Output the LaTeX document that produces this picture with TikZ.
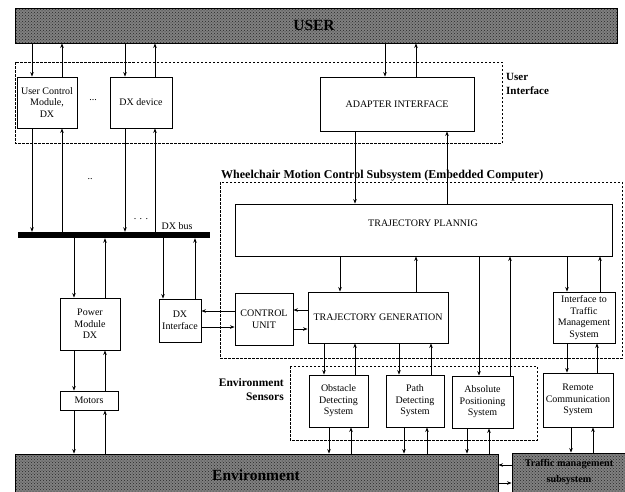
\documentclass[tikz,border=0pt]{standalone}
\usepackage{fontspec}
\setmainfont{Liberation Serif}
\usetikzlibrary{arrows.meta,patterns}
\newcommand\varr[3]{\draw[arr] (#1,0 |- #2) -- (#1,0 |- #3);}
\newcommand\harr[3]{\draw[arr] (#2 |- 0,#1) -- (#3 |- 0,#1);}
\begin{document}
\begin{tikzpicture}[x=1pt,y=-1pt,
  box/.style={draw, line width=0.9pt, fill=white, align=center, inner sep=0.5pt,
    font=\fontsize{10}{11.6}\selectfont},
  bar/.style={draw, line width=0.9pt, preaction={fill=black!50},
    pattern=crosshatch dots, pattern color=black!85, inner sep=0pt},
  dbox/.style={draw, line width=0.8pt, dash pattern=on 2.5pt off 1.5pt},
  arr/.style={line width=0.8pt, -{Stealth[length=4.5pt,width=3.5pt]}},
  lbl/.style={font=\fontsize{11}{13.5}\selectfont\bfseries, inner sep=0pt},
  small/.style={font=\fontsize{10}{11}\selectfont, inner sep=0pt}]
\useasboundingbox (0,0) rectangle (625,491);

% bars
\node[bar, minimum width=602pt, minimum height=35pt] (user) at (316,25.5) {};
\node[font=\fontsize{15.5}{18}\selectfont\bfseries] (usertxt) at (314,25) {USER};
\node[bar, minimum width=483pt, minimum height=40pt] (env) at (256.5,474) {};
\node[font=\fontsize{15.5}{18}\selectfont\bfseries] (envtxt) at (256,475) {Environment};
\node[bar, minimum width=115pt, minimum height=41pt] (traffic) at (569.5,473.5) {};
\node[font=\fontsize{10.2}{16}\selectfont\bfseries, align=center] (traftxt) at (569,472.5) {Traffic management\\subsystem};

% dashed groups
\draw[dbox] (15,62) rectangle (502,143);
\draw[dbox] (220,182) rectangle (622,358);
\draw[dbox] (290,366) rectangle (537,440);

% boxes
\node[box, minimum width=60pt, minimum height=51pt] (ucm) at (47,102.5) {User Control\\Module,\\DX};
\node[box, minimum width=62pt, minimum height=51pt] (dxdev) at (141,102.5) {DX device};
\node[box, minimum width=154pt, minimum height=54pt] (adapt) at (397,104) {ADAPTER INTERFACE};
\node[box, minimum width=377pt, minimum height=52pt] (tp) at (423.5,230) {};
\node[small] (tptxt) at (423,223) {TRAJECTORY PLANNIG};
\node[box, minimum width=140pt, minimum height=51pt] (tg) at (378,317.5) {TRAJECTORY GENERATION};
\node[box, minimum width=58pt, minimum height=52pt] (cu) at (264,319) {CONTROL\\UNIT};
\node[box, minimum width=42pt, minimum height=43pt] (dxi) at (180,320.5) {DX\\Interface};
\node[box, minimum width=60pt, minimum height=52pt] (pm) at (90,324) {Power\\Module\\DX};
\node[box, minimum width=58pt, minimum height=19pt] (mot) at (89,400.5) {Motors};
\node[box, minimum width=62pt, minimum height=51pt] (itms) at (584,317.5) {Interface to\\Traffic\\Management\\System};
\node[box, minimum width=59pt, minimum height=52pt] (obs) at (338.5,401) {Obstacle\\Detecting\\System};
\node[box, minimum width=58pt, minimum height=52pt] (pds) at (415,401) {Path\\Detecting\\System};
\node[box, minimum width=61pt, minimum height=52pt] (aps) at (482.5,402) {Absolute\\Positioning\\System};
\node[box, minimum width=70pt, minimum height=54pt] (rcs) at (578,400) {Remote\\Communication\\System};

% DX bus
\node[fill=black, minimum width=192pt, minimum height=6pt, inner sep=0pt] (bus) at (114,235) {};
\node[small] (buslbl) at (177,226) {DX bus};

% labels
\node[lbl, anchor=west, align=left] (uilbl) at (506,84) {User\\Interface};
\node[lbl, anchor=west, font=\fontsize{12}{14}\selectfont\bfseries] (wmlbl) at (221,176) {Wheelchair Motion Control Subsystem (Embedded Computer)};
\node[lbl, anchor=east, align=right, font=\fontsize{11.5}{14}\selectfont\bfseries] (eslbl) at (284,390) {Environment\\Sensors};
\node[small] (dots1) at (93,100) {...};
\node[small] (dots2) at (90,179) {..};
\node[small] (dots3) at (141,219) {. . .};

% user <-> UI
\varr{32}{user.south}{ucm.north}
\varr{62}{ucm.north}{user.south}
\varr{125}{user.south}{dxdev.north}
\varr{155}{dxdev.north}{user.south}
\varr{385}{user.south}{adapt.north}
\varr{416}{adapt.north}{user.south}
% UI <-> bus
\varr{32}{ucm.south}{bus.north}
\varr{62}{bus.north}{ucm.south}
\varr{125}{dxdev.south}{bus.north}
\varr{155}{bus.north}{dxdev.south}
% bus <-> power / dx interface
\varr{74}{bus.south}{pm.north}
\varr{105}{pm.north}{bus.south}
\varr{163}{bus.south}{dxi.north}
\varr{195}{dxi.north}{bus.south}
\varr{74}{pm.south}{mot.north}
\varr{105}{mot.north}{pm.south}
\varr{74}{mot.south}{env.north}
\varr{105}{env.north}{mot.south}
% horizontal
\harr{311}{cu.west}{dxi.east}
\harr{327}{dxi.east}{cu.west}
\harr{310}{tg.west}{cu.east}
\harr{329}{cu.east}{tg.west}
% adapter <-> planning
\varr{355}{adapt.south}{tp.north}
\varr{447}{tp.north}{adapt.south}
% planning
\varr{340}{tp.south}{tg.north}
\varr{416}{tg.north}{tp.south}
\varr{479}{tp.south}{aps.north}
\varr{510}{aps.north}{tp.south}
\varr{567}{tp.south}{itms.north}
\varr{600}{itms.north}{tp.south}
\varr{567}{itms.south}{rcs.north}
\varr{597}{rcs.north}{itms.south}
\varr{571}{rcs.south}{traffic.north}
\varr{593}{traffic.north}{rcs.south}
% generation <-> sensors
\varr{324}{tg.south}{obs.north}
\varr{355}{obs.north}{tg.south}
\varr{399}{tg.south}{pds.north}
\varr{431}{pds.north}{tg.south}
% sensors <-> environment
\varr{329}{obs.south}{env.north}
\varr{351}{env.north}{obs.south}
\varr{404}{pds.south}{env.north}
\varr{427}{env.north}{pds.south}
\varr{467}{aps.south}{env.north}
\varr{489}{env.north}{aps.south}
% traffic <-> environment
\harr{465}{traffic.west}{env.east}
\harr{483}{env.east}{traffic.west}
\end{tikzpicture}
\end{document}
